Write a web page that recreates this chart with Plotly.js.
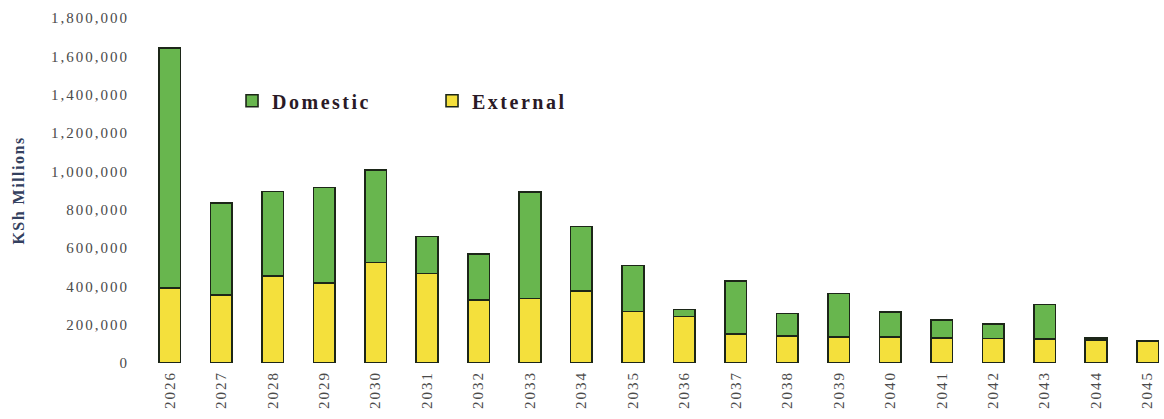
<!DOCTYPE html>
<html><head><meta charset="utf-8">
<script src="https://cdn.plot.ly/plotly-3.0.1.min.js"></script>
<style>
body{margin:0;background:#fff}#chart{width:1164px;height:419px}
.ytick text,.xtick text{letter-spacing:2px}
.legendtext{letter-spacing:2.5px}
.ytitle{letter-spacing:1.5px}
</style>
</head><body><div id="chart"></div>
<script>
const years = ["2026","2027","2028","2029","2030","2031","2032","2033","2034","2035","2036","2037","2038","2039","2040","2041","2042","2043","2044","2045"];
const external = [390000,355000,454000,416000,524000,468000,329000,336000,376000,268000,242000,151000,141000,137000,136000,132000,127000,124000,120000,115000];
const domestic = [1253000,479000,441000,499000,484000,192000,240000,555000,336000,240000,38000,276000,118000,225000,130000,91000,75000,182000,9000,0];

const serif = "Liberation Serif, Times New Roman, serif";
const lineStyle = {color:"#1c2618", width:1.6};
const traces = [
  {type:"bar", name:"External", x:years, y:external, marker:{color:"#f4e03c", line:lineStyle}},
  {type:"bar", name:"Domestic", x:years, y:domestic, marker:{color:"#68b64e", line:lineStyle}}
];
const layout = {
  width:1164, height:419,
  margin:{l:144, r:0, t:18, b:56},
  barmode:"stack", bargap:0.58,
  paper_bgcolor:"#fff", plot_bgcolor:"#fff",
  showlegend:true,
  legend:{orientation:"h", traceorder:"reversed", x:0.0863, y:0.76, xanchor:"left", yanchor:"middle",
    entrywidth:155, entrywidthmode:"pixels", itemwidth:30,
    font:{family:serif, size:20, color:"#2a1a26", weight:"bold"}, bgcolor:"rgba(0,0,0,0)"},
  xaxis:{type:"category", range:[-0.5,19.32], tickangle:-90, showgrid:false, showline:false, zeroline:false,
    ticks:"", tickfont:{family:serif, size:15, color:"#4a4a4a"}, ticklabelstandoff:4},
  yaxis:{range:[0,1800000], dtick:200000, tickformat:",d", showgrid:false, showline:false, zeroline:false,
    ticks:"", ticklabelstandoff:14, tickfont:{family:serif, size:15, color:"#4a4a4a"},
    title:{text:"KSh Millions", font:{family:serif, size:16, color:"#33405e", weight:"bold"}, standoff:22}}
};
Plotly.newPlot("chart", traces, layout, {displayModeBar:false, staticPlot:true});
</script></body></html>
